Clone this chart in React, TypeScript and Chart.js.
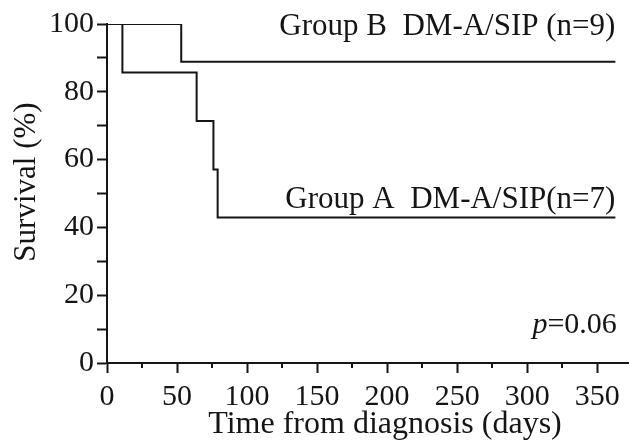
import React, { useEffect, useRef } from 'react';
import { Chart, registerables } from 'chart.js';

Chart.register(...registerables);

// ---- data ----
const groupBDays = [0, 53, 363];
const groupBSurvival = [100, 88.9, 88.9];
const groupADays = [0, 11, 64, 76, 79, 363];
const groupASurvival = [100, 85.7, 71.4, 57.1, 42.9, 42.9];
const groupBLabel = 'Group B  DM-A/SIP (n=9)';
const groupALabel = 'Group A  DM-A/SIP(n=7)';
const xTitle = 'Time from diagnosis (days)';
const yTitle = 'Survival (%)';
const pItalic = 'p';
const pRest = '=0.06';
const xMajorTicks = [0, 50, 100, 150, 200, 250, 300, 350];
const xMinorTicks = [25, 75, 125, 175, 225, 275, 325];

const INK = '#151515';
const FONT = '"Liberation Serif", "Times New Roman", serif';

const annotationPlugin = {
  id: 'annotations',
  afterDraw(chart: any) {
    const ctx = chart.ctx;
    const xs = chart.scales.x;
    const ys = chart.scales.y;
    const area = chart.chartArea;
    ctx.save();
    ctx.fillStyle = INK;
    ctx.strokeStyle = INK;

    // minor x ticks
    ctx.lineWidth = 2;
    xMinorTicks.forEach((v) => {
      const px = Math.round(xs.getPixelForValue(v));
      ctx.beginPath();
      ctx.moveTo(px, area.bottom);
      ctx.lineTo(px, area.bottom + 5);
      ctx.stroke();
    });

    // group labels
    ctx.font = `31px ${FONT}`;
    ctx.textAlign = 'right';
    ctx.textBaseline = 'alphabetic';
    ctx.fillText(groupBLabel, xs.getPixelForValue(363), ys.getPixelForValue(96.8));
    ctx.fillText(groupALabel, xs.getPixelForValue(363), ys.getPixelForValue(45.8));

    // p value
    ctx.font = `30px ${FONT}`;
    const right = xs.getPixelForValue(364);
    const base = ys.getPixelForValue(8.8);
    const w = ctx.measureText(pRest).width;
    ctx.fillText(pRest, right, base);
    ctx.font = `italic 30px ${FONT}`;
    ctx.fillText(pItalic, right - w, base);

    // x title
    ctx.font = `32px ${FONT}`;
    ctx.textAlign = 'center';
    ctx.fillText(xTitle, area.left + 278, area.bottom + 70);

    // y title
    ctx.save();
    ctx.font = `31px ${FONT}`;
    ctx.translate(35, area.top + 158);
    ctx.rotate(-Math.PI / 2);
    ctx.textAlign = 'center';
    ctx.fillText(yTitle, 0, 0);
    ctx.restore();

    ctx.restore();
  },
};

export default function App() {
  const canvasRef = useRef<HTMLCanvasElement | null>(null);

  useEffect(() => {
    const canvas = canvasRef.current;
    if (!canvas) return;
    const chart = new Chart(canvas, {
      type: 'line',
      data: {
        datasets: [
          {
            label: 'Group B',
            data: groupBDays.map((d, i) => ({ x: d, y: groupBSurvival[i] })),
            borderColor: INK,
            borderWidth: 2,
            pointRadius: 0,
            stepped: true,
            fill: false,
          },
          {
            label: 'Group A',
            data: groupADays.map((d, i) => ({ x: d, y: groupASurvival[i] })),
            borderColor: INK,
            borderWidth: 2,
            pointRadius: 0,
            stepped: true,
            fill: false,
          },
        ],
      },
      options: {
        responsive: false,
        animation: false,
        layout: { padding: { top: 24, right: 1, left: 0, bottom: 0 } },
        plugins: {
          legend: { display: false },
          tooltip: { enabled: false },
        },
        scales: {
          x: {
            type: 'linear',
            min: 0,
            max: 372,
            afterBuildTicks: (scale: any) => {
              scale.ticks = xMajorTicks.map((v) => ({ value: v }));
            },
            afterFit: (scale: any) => {
              scale.height = 78;
            },
            ticks: {
              color: INK,
              padding: 6,
              maxRotation: 0,
              autoSkip: false,
              font: { family: FONT, size: 30 },
            },
            grid: {
              drawOnChartArea: false,
              tickLength: 10,
              tickWidth: 2,
              tickColor: INK,
            },
            border: { color: INK, width: 2 },
          },
          y: {
            type: 'linear',
            min: 0,
            max: 100,
            afterFit: (scale: any) => {
              scale.width = 107;
            },
            ticks: {
              stepSize: 10,
              color: INK,
              padding: 3,
              autoSkip: false,
              font: { family: FONT, size: 30 },
              callback: (v: any) => (Number(v) % 20 === 0 ? String(v) : ''),
            },
            grid: {
              drawOnChartArea: false,
              tickLength: 10,
              tickWidth: 2,
              tickColor: INK,
            },
            border: { color: INK, width: 2 },
          },
        },
      },
      plugins: [annotationPlugin],
    });
    return () => chart.destroy();
  }, []);

  return (
    <div style={{ position: 'fixed', left: 0, top: 0, width: 629, height: 441, background: '#fff' }}>
      <canvas ref={canvasRef} width={629} height={441} style={{ display: 'block' }} />
    </div>
  );
}
